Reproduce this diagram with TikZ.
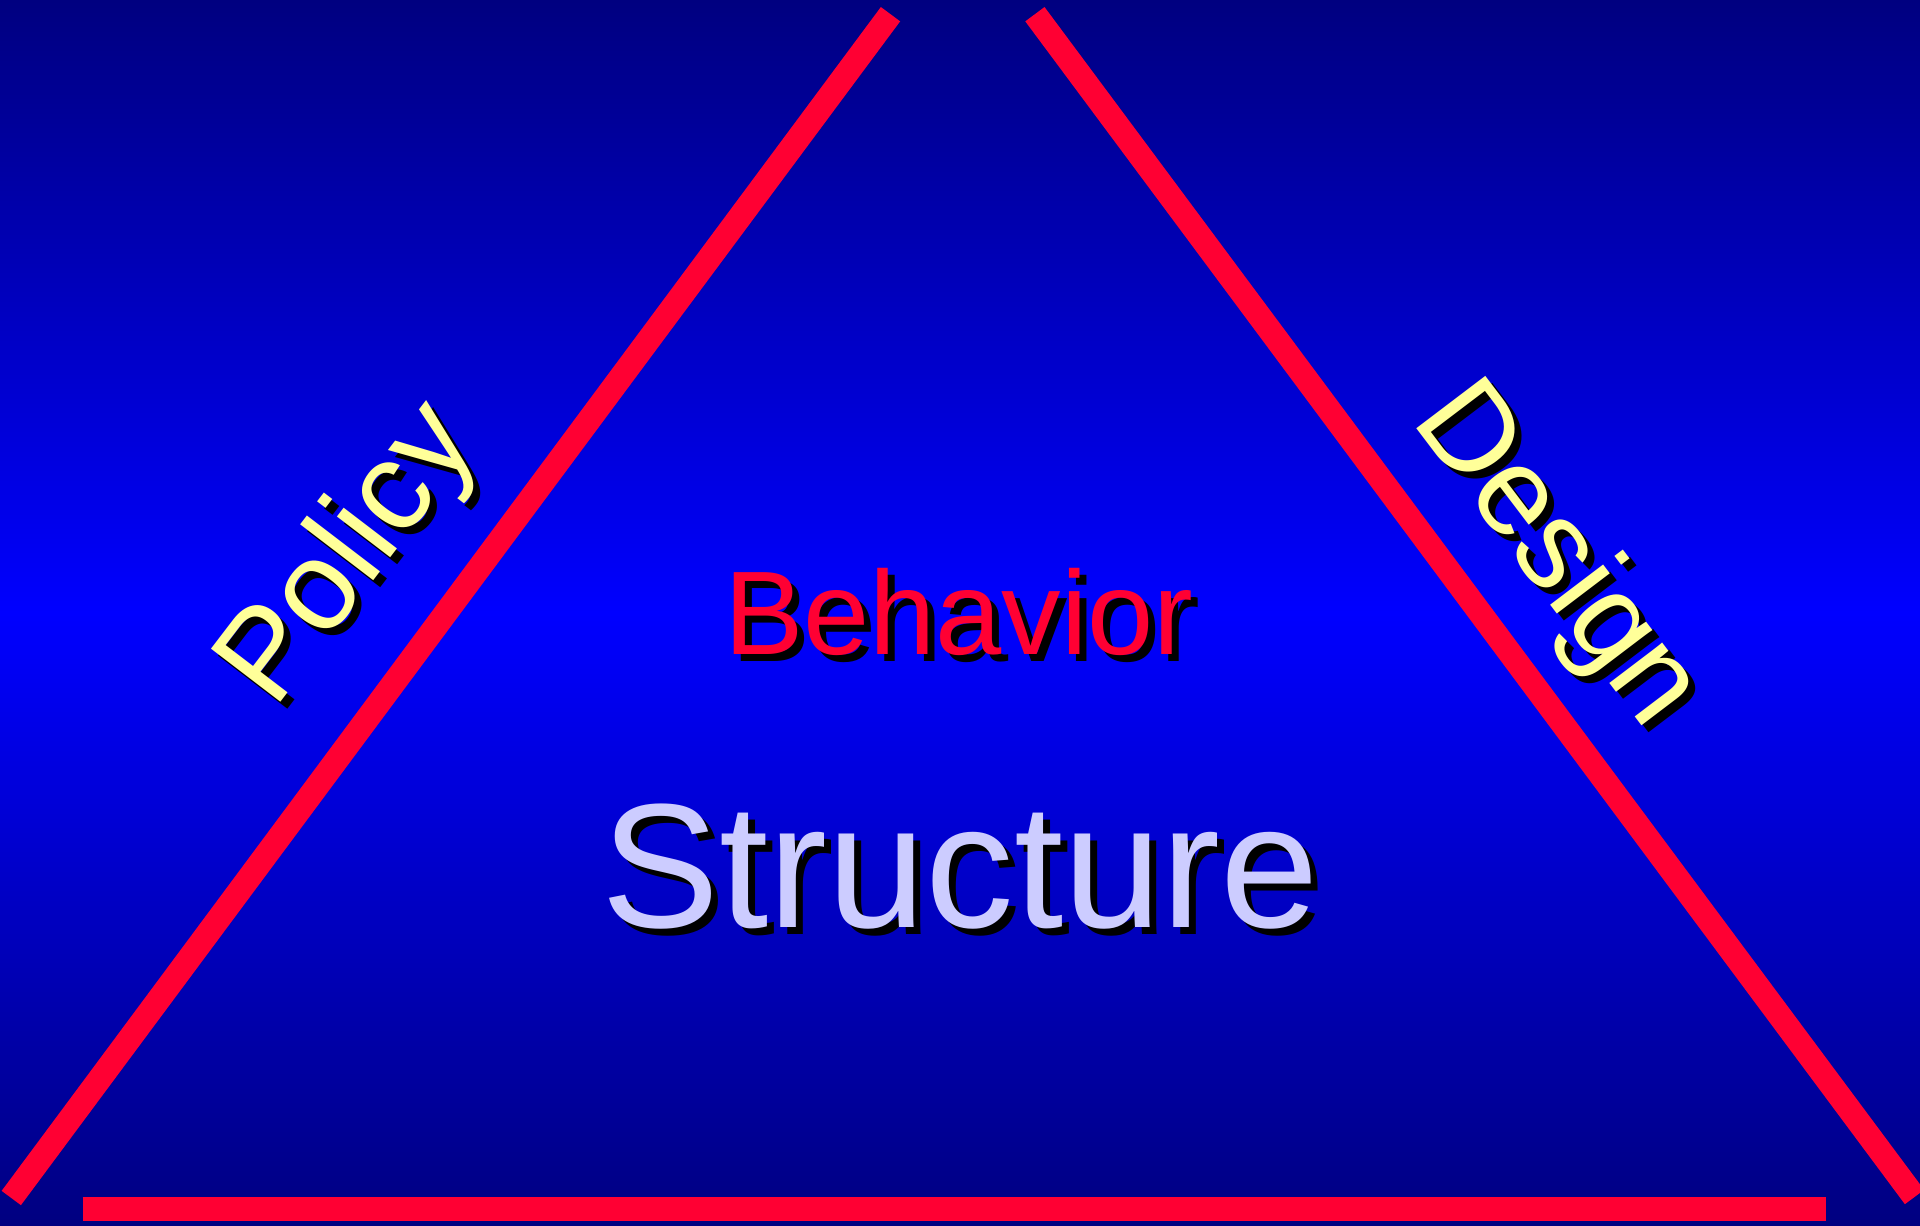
\documentclass[tikz,border=0pt]{standalone}
\usepackage{fontspec}
\setmainfont{Liberation Sans}
\definecolor{navyzero}{RGB}{0,0,128}
\definecolor{brightblue}{RGB}{0,0,255}
\definecolor{redline}{RGB}{255,0,51}
\definecolor{paleyellow}{RGB}{255,255,153}
\definecolor{lavender}{RGB}{204,204,255}
\tikzset{
  edgeline/.style={draw=redline, line width=24pt, line cap=butt},
  lbl/.style={inner sep=0pt, outer sep=0pt, anchor=base west},
}
\begin{document}
\begin{tikzpicture}[x=1pt,y=-1pt]
\useasboundingbox (0,0) rectangle (1920,1226);
\shade[top color=navyzero, bottom color=navyzero, middle color=brightblue] (0,0) rectangle (1920,1226);
% corners
\coordinate (lt) at (890.5,14.2);
\coordinate (lb) at (11.3,1198);
\coordinate (rt) at (1034.9,14.2);
\coordinate (rb) at (1914.5,1197);
\coordinate (bl) at (82.7,1208.7);
\coordinate (br) at (1826.3,1208.7);
\draw[edgeline] (lt) -- (lb);
\draw[edgeline] (rt) -- (rb);
\draw[edgeline] (bl) -- (br);
% labels with shadows
\node[lbl, text=black, font=\fontsize{119pt}{140pt}\selectfont] (behaviorshadow) at (731,661) {Behavior};
\node[lbl, text=redline, font=\fontsize{119pt}{140pt}\selectfont] (behavior) at (724,654) {Behavior};
\node[lbl, text=black, font=\fontsize{177pt}{200pt}\selectfont] (structureshadow) at (608,934) {Structure};
\node[lbl, text=lavender, font=\fontsize{177pt}{200pt}\selectfont] (structure) at (601,927) {Structure};
\node[lbl, text=black, rotate=52.6, font=\fontsize{127pt}{150pt}\selectfont] (policyshadow) at (281,717.5) {Policy};
\node[lbl, text=paleyellow, rotate=52.6, font=\fontsize{127pt}{150pt}\selectfont] (policy) at (274,710.5) {Policy};
\node[lbl, text=black, rotate=-52.8, font=\fontsize{126pt}{150pt}\selectfont] (designshadow) at (1417,427.4) {Design};
\node[lbl, text=paleyellow, rotate=-52.8, font=\fontsize{126pt}{150pt}\selectfont] (design) at (1410,420.4) {Design};
\end{tikzpicture}
\end{document}
